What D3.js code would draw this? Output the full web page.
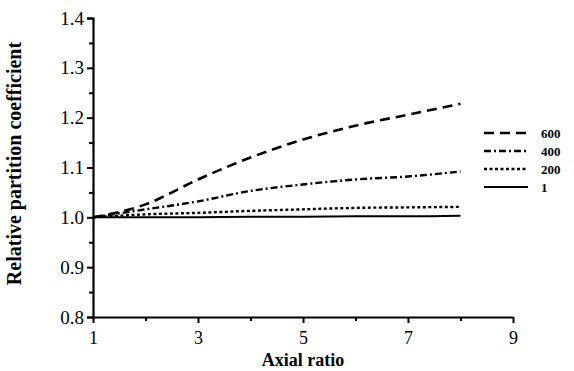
<!DOCTYPE html>
<html lang="en">
<head>
    <meta charset="UTF-8">
    <script src="https://cdnjs.cloudflare.com/ajax/libs/d3/7.8.5/d3.min.js"></script>
    <title>Relative partition coefficient vs axial ratio</title>
    <style>
        body { margin: 0; background: #fff; }
        text { font-family: "Liberation Serif", "DejaVu Serif", serif; fill: #000; }
    </style>
</head>
<body>

<script>

    // data
    let axialRatio = [1, 2, 3, 4, 5, 6, 7, 8];
    let s600 = [1.0, 1.026, 1.076, 1.120, 1.156, 1.184, 1.206, 1.228];
    let s400 = [1.0, 1.016, 1.032, 1.053, 1.066, 1.076, 1.082, 1.092];
    let s200 = [1.0, 1.006, 1.009, 1.013, 1.016, 1.019, 1.020, 1.021];
    let s1   = [1.0, 1.0, 1.0, 1.001, 1.001, 1.002, 1.002, 1.003];
    let seriesNames = ["600", "400", "200", "1"];
    let xTicks = [1, 3, 5, 7, 9];
    let yTicks = [0.8, 0.9, 1.0, 1.1, 1.2, 1.3, 1.4];

    let series = [
        {name: "600", values: s600, dash: "10,6", width: 2.6},
        {name: "400", values: s400, dash: "7,3,2,3", width: 2.4},
        {name: "200", values: s200, dash: "3,2.5", width: 2.4},
        {name: "1", values: s1, dash: null, width: 2}
    ];

    let margin = {top: 18, right: 61, bottom: 54, left: 93};
    let width = 574 - margin.left - margin.right;
    let height = 371 - margin.top - margin.bottom;

    let x = d3.scaleLinear().domain([1, 9]).range([0, width]);
    let y = d3.scaleLinear().domain([0.8, 1.4]).range([height, 0]);

    let svg = d3.select("body").append("svg")
        .attr("width", 574)
        .attr("height", 371)
        .append("g").attr("transform",
        "translate(" + margin.left + "," + margin.top + ")");

    // minor ticks
    svg.append("g")
        .attr("transform", "translate(0," + height + ")")
        .call(d3.axisBottom(x).tickValues([2, 4, 6, 8]).tickSize(4).tickFormat(""))
        .call(g => g.select(".domain").remove())
        .selectAll("line").attr("stroke-width", 2);
    svg.append("g")
        .call(d3.axisLeft(y).tickValues(d3.range(0.85, 1.4, 0.1)).tickSize(4).tickFormat(""))
        .call(g => g.select(".domain").remove())
        .selectAll("line").attr("stroke-width", 2);

    // X axis
    let xAxis = svg.append("g")
        .attr("transform", "translate(0," + height + ")")
        .call(d3.axisBottom(x).tickValues(xTicks).tickSize(6).tickSizeOuter(0).tickPadding(8));
    xAxis.select(".domain").attr("stroke-width", 2.2);
    xAxis.selectAll("line").attr("stroke-width", 2);
    xAxis.selectAll("text").style("font-size", "18px");

    // Y axis
    let yAxis = svg.append("g")
        .call(d3.axisLeft(y).tickValues(yTicks).tickFormat(d3.format(".1f")).tickSize(6).tickSizeOuter(6).tickPadding(3));
    yAxis.select(".domain").attr("stroke-width", 2.2);
    yAxis.selectAll("line").attr("stroke-width", 2);
    yAxis.selectAll("text").style("font-size", "19px");

    // lines
    let line = d3.line()
        .x(function(d, i) { return x(axialRatio[i]); })
        .y(function(d) { return y(d); })
        .curve(d3.curveMonotoneX);

    series.forEach(function(s) {
        svg.append("path")
            .datum(s.values)
            .attr("fill", "none")
            .attr("stroke", "#000")
            .attr("stroke-width", s.width)
            .attr("stroke-dasharray", s.dash)
            .attr("d", line);
    });

    // legend
    let legend = svg.append("g").attr("transform", "translate(391,115)");
    series.forEach(function(s, i) {
        let g = legend.append("g").attr("transform", "translate(0," + (i * 18) + ")");
        g.append("line")
            .attr("x1", 0).attr("x2", 44)
            .attr("stroke", "#000")
            .attr("stroke-width", s.width)
            .attr("stroke-dasharray", s.dash);
        g.append("text")
            .attr("x", 57).attr("dy", "0.35em")
            .style("font-size", "13px")
            .style("font-weight", "bold")
            .text(seriesNames[i]);
    });

    // axis titles
    svg.append("text")
        .attr("transform", "rotate(-90)")
        .attr("x", 0 - (height / 2) + 4)
        .attr("y", -72)
        .style("text-anchor", "middle")
        .style("font-size", "20px")
        .style("font-weight", "bold")
        .text("Relative partition coefficient");

    svg.append("text")
        .attr("x", x(5))
        .attr("y", height + 49)
        .style("text-anchor", "middle")
        .style("font-size", "18px")
        .style("font-weight", "bold")
        .text("Axial ratio");

</script>

</body>
</html>
